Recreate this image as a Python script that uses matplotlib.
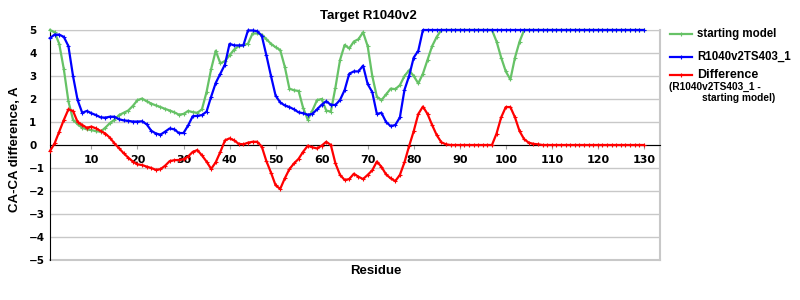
import numpy as np
import matplotlib
matplotlib.use("Agg")
import matplotlib.pyplot as plt
from matplotlib.lines import Line2D

residues = np.arange(1, 131)

starting_model = [
    5.0, 4.9, 4.4, 3.3, 1.9, 1.1, 0.9, 0.75, 0.68, 0.65,
    0.6, 0.58, 0.75, 0.95, 1.1, 1.3, 1.4, 1.5, 1.7, 1.95,
    2.02, 1.9, 1.8, 1.72, 1.65, 1.57, 1.5, 1.42, 1.32, 1.35,
    1.48, 1.43, 1.4, 1.55, 2.3, 3.3, 4.1, 3.55, 3.65, 3.9,
    4.15, 4.3, 4.35, 4.4, 4.85, 4.85, 4.8, 4.6, 4.4, 4.25,
    4.13, 3.4, 2.45, 2.38, 2.35, 1.6, 1.1, 1.5, 1.95, 2.0,
    1.5, 1.45, 2.5, 3.7, 4.35, 4.2, 4.5, 4.6, 4.9, 4.3,
    3.0, 2.1, 1.95, 2.2, 2.45, 2.43, 2.6, 3.0, 3.25, 3.0,
    2.68, 3.1, 3.7, 4.3, 4.7, 5.0, 5.0, 5.0, 5.0, 5.0,
    5.0, 5.0, 5.0, 5.0, 5.0, 5.0, 5.0, 4.5, 3.8, 3.2,
    2.85, 3.8, 4.5, 5.0, 5.0, 5.0, 5.0, 5.0, 5.0, 5.0,
    5.0, 5.0, 5.0, 5.0, 5.0, 5.0, 5.0, 5.0, 5.0, 5.0,
    5.0, 5.0, 5.0, 5.0, 5.0, 5.0, 5.0, 5.0, 5.0, 5.0,
]

ts403 = [
    4.65, 4.8, 4.8, 4.7, 4.3, 3.0, 1.95, 1.4, 1.48, 1.38,
    1.3, 1.2, 1.19, 1.23, 1.23, 1.12, 1.07, 1.05, 1.02, 1.02,
    1.03, 0.9, 0.62, 0.5, 0.45, 0.58, 0.72, 0.68, 0.52, 0.52,
    0.85, 1.25, 1.27, 1.3, 1.45, 2.1, 2.7, 3.1, 3.5, 4.4,
    4.33, 4.33, 4.33, 4.98, 4.98, 4.95, 4.75, 3.9, 3.0, 2.15,
    1.85, 1.72, 1.65, 1.55, 1.42, 1.38, 1.32, 1.35, 1.55, 1.75,
    1.9, 1.75, 1.74, 1.96, 2.39, 3.1, 3.2, 3.2, 3.45, 2.65,
    2.3, 1.35, 1.4, 1.0, 0.82, 0.87, 1.2, 2.4, 3.0, 3.8,
    4.1, 5.0, 5.0, 5.0, 5.0, 5.0, 5.0, 5.0, 5.0, 5.0,
    5.0, 5.0, 5.0, 5.0, 5.0, 5.0, 5.0, 5.0, 5.0, 5.0,
    5.0, 5.0, 5.0, 5.0, 5.0, 5.0, 5.0, 5.0, 5.0, 5.0,
    5.0, 5.0, 5.0, 5.0, 5.0, 5.0, 5.0, 5.0, 5.0, 5.0,
    5.0, 5.0, 5.0, 5.0, 5.0, 5.0, 5.0, 5.0, 5.0, 5.0,
]

difference = [
    -0.26, 0.07, 0.58, 1.09, 1.55, 1.48, 1.0, 0.87, 0.75, 0.8,
    0.72, 0.61, 0.5, 0.32, 0.07, -0.14, -0.36, -0.55, -0.72, -0.84,
    -0.87, -0.94, -1.0, -1.08, -1.05, -0.9, -0.7, -0.66, -0.65, -0.62,
    -0.5, -0.3, -0.22, -0.45, -0.72, -1.04, -0.75, -0.3, 0.2, 0.29,
    0.2, 0.05, 0.03, 0.1, 0.14, 0.14, -0.07, -0.7, -1.2, -1.75,
    -1.91, -1.45, -1.05, -0.8, -0.6, -0.29, -0.03, -0.1, -0.15, -0.03,
    0.14, 0.0, -0.8, -1.3, -1.52, -1.48, -1.25, -1.38, -1.48, -1.3,
    -1.1, -0.72, -0.95, -1.28, -1.45, -1.57, -1.3, -0.75, -0.05, 0.6,
    1.35, 1.67, 1.35, 0.87, 0.43, 0.12, 0.03, 0.0, 0.0, 0.0,
    0.0, 0.0, 0.0, 0.0, 0.0, 0.0, 0.0, 0.5, 1.2, 1.65,
    1.65, 1.2, 0.6, 0.25, 0.1, 0.05, 0.03, 0.0, 0.0, 0.0,
    0.0, 0.0, 0.0, 0.0, 0.0, 0.0, 0.0, 0.0, 0.0, 0.0,
    0.0, 0.0, 0.0, 0.0, 0.0, 0.0, 0.0, 0.0, 0.0, 0.0,
]

x_ticks = [10, 20, 30, 40, 50, 60, 70, 80, 90, 100, 110, 120, 130]
y_ticks = [-5, -4, -3, -2, -1, 0, 1, 2, 3, 4, 5]

GREEN = "#66c266"
BLUE = "#0000ff"
RED = "#ff0000"
GRID = "#c8c8c8"
ARIAL = "Liberation Sans"

fig = plt.figure(figsize=(8, 3), dpi=100)
ax = fig.add_axes([50 / 800, 1 - 260 / 300, 610 / 800, 230 / 300])

series = [
    (starting_model, GREEN, "starting model", 8.3),
    (ts403, BLUE, "R1040v2TS403_1", 8.3),
    (difference, RED, "Difference", 9),
]
for values, color, name, fs in series:
    ax.plot(residues, values, color=color, lw=1.6, marker="+", ms=2.5,
            mew=0.8, clip_on=False, zorder=3)

ax.set_xlim(1, 133.5)
ax.set_ylim(-5, 5)
ax.set_yticks(y_ticks)
ax.set_xticks(x_ticks)
ax.grid(axis="y", color=GRID, lw=1)
ax.axhline(-5, color=GRID, lw=1.5, clip_on=False)

ax.spines["bottom"].set_position(("data", 0))
ax.spines["bottom"].set_color("black")
ax.spines["left"].set_color("black")
ax.spines["top"].set_color(GRID)
ax.spines["right"].set_color(GRID)
ax.spines["right"].set_linewidth(1.5)

# y labels are left aligned at a fixed column in the original
ax.tick_params(axis="y", length=0, pad=15)
ax.tick_params(axis="x", length=3, color="#a0a0a0", pad=4)
for lab in ax.get_yticklabels():
    lab.set_fontweight("bold")
    lab.set_fontsize(7.5)
    lab.set_horizontalalignment("left")
for lab in ax.get_xticklabels():
    lab.set_fontweight("bold")
    lab.set_fontsize(8)

fig.text(368 / 800, 1 - 16 / 300, "Target R1040v2", ha="center", va="center",
         fontsize=9.5, fontweight="bold", family=ARIAL)
fig.text(376 / 800, 1 - 271 / 300, "Residue", ha="center", va="center",
         fontsize=9.5, fontweight="bold", family=ARIAL)
fig.text(15 / 800, 1 - 149 / 300, "CA-CA difference, A", ha="center", va="center",
         rotation=90, fontsize=9.5, fontweight="bold", family=ARIAL)

# legend drawn by hand so the note under "Difference" fits
leg_y = [34, 57, 75]
for (values, color, name, fs), yy in zip(series, leg_y):
    fy = 1 - yy / 300
    fig.add_artist(Line2D([670 / 800, 692 / 800], [fy, fy], color=color, lw=1.6,
                          transform=fig.transFigure))
    fig.add_artist(Line2D([681 / 800], [fy], color=color, marker="+", ms=2.5,
                          mew=0.8, transform=fig.transFigure))
    fig.text(697 / 800, fy, name, ha="left", va="center", fontsize=fs,
             fontweight="bold", family=ARIAL)
fig.text(669 / 800, 1 - 87 / 300, "(R1040v2TS403_1 -", ha="left", va="center",
         fontsize=7.3, fontweight="bold", family=ARIAL)
fig.text(702 / 800, 1 - 98 / 300, "starting model)", ha="left", va="center",
         fontsize=7.3, fontweight="bold", family=ARIAL)

fig.savefig("out.png", dpi=100)
